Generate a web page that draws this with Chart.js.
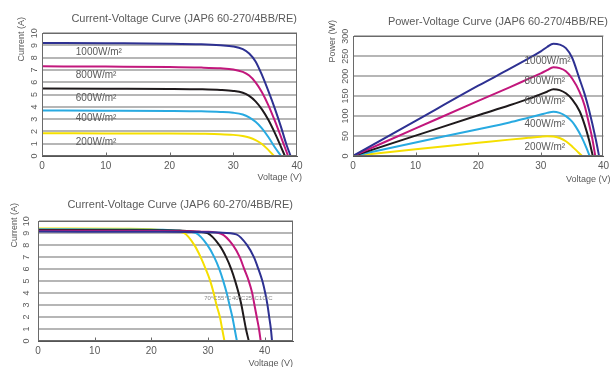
<!DOCTYPE html>
<html>
<head>
<meta charset="utf-8">
<script src="https://cdn.jsdelivr.net/npm/chart.js@4.4.0/dist/chart.umd.min.js"></script>
<style>
  body { margin: 0; background: #fff; width: 613px; height: 367px; position: relative; overflow: hidden; }
  .box { position: absolute; }
</style>
</head>
<body>
<div class="box" style="left:0;top:0;width:310px;height:188px"><canvas id="ivIrr"></canvas></div>
<div class="box" style="left:310px;top:0;width:303px;height:188px"><canvas id="pvIrr"></canvas></div>
<div class="box" style="left:0;top:190px;width:310px;height:177px"><canvas id="ivTemp"></canvas></div>
<script>
// ===== Data =====
const chartTitle = 'Current-Voltage Curve (JAP6 60-270/4BB/RE)';
const pvTitle = 'Power-Voltage Curve (JAP6 60-270/4BB/RE)';
const irrLabels = ['1000W/m²', '800W/m²', '600W/m²', '400W/m²', '200W/m²'];
const tempLabels = ['10°C', '25°C', '40°C', '55°C', '70°C'];

// I-V at different irradiance: [voltage, current]
const iv1000 = [[0,9.2],[10,9.18],[20,9.15],[25,9.1],[28,9.02],[30,8.92],[31.5,8.7],[32.5,8.35],[33.5,7.7],[34.5,6.6],[35.5,5.3],[36.5,3.9],[37.5,2.35],[38.3,1.0],[39.0,0]];
const iv800 = [[0,7.3],[10,7.28],[20,7.25],[25,7.2],[28,7.14],[30,7.05],[31.5,6.85],[32.5,6.55],[33.5,6.0],[34.5,5.2],[35.5,4.15],[36.5,2.9],[37.6,1.4],[38.6,0]];
const iv600 = [[0,5.5],[10,5.48],[20,5.46],[25,5.43],[28,5.38],[30,5.3],[31.5,5.15],[32.5,4.9],[33.5,4.45],[34.5,3.8],[35.5,2.95],[36.5,1.9],[37.4,0.85],[38.1,0]];
const iv400 = [[0,3.7],[10,3.69],[20,3.67],[25,3.64],[28,3.59],[30,3.52],[31.5,3.38],[32.5,3.15],[33.5,2.78],[34.5,2.25],[35.5,1.55],[36.6,0.65],[37.5,0]];
const iv200 = [[0,1.85],[10,1.84],[20,1.83],[25,1.81],[28,1.78],[30,1.72],[31.5,1.62],[32.5,1.5],[33.5,1.3],[34.5,0.98],[35.5,0.5],[36.4,0]];

// P-V at different irradiance: [voltage, power]
const pv1000 = [[0,0],[10,88],[20,176],[25,218],[28,244],[30,262],[31,273],[32,281],[33,279],[34,270],[35,246],[36.2,192],[37,155],[37.7,115],[38.8,40],[39.3,0]];
const pv800 = [[0,0],[10,69],[20,138],[25,172],[28,193],[30,207],[31,215],[32,222],[33,220],[34,212],[35,194],[36.2,160],[37,126],[37.7,80],[38.2,45],[38.7,0]];
const pv600 = [[0,0],[10,51],[20,102],[25,127],[28,143],[30,155],[31,161],[32,167],[33,165],[34,157],[35,142],[36.2,112],[37,78],[37.7,40],[38.3,0]];
const pv400 = [[0,0],[10,34],[20,67],[25,84],[28,96],[30,104],[31,108],[32,111],[33,108],[34,100],[35,86],[35.6,73],[36.5,48],[37.3,20],[37.8,0]];
const pv200 = [[0,0],[10,17],[20,33],[25,41],[28,45.5],[30,48.5],[31,49.5],[32,49],[33,45],[34,37],[35,24],[36,9],[36.6,0]];

// I-V at different cell temperature: [voltage, current]
const ivT10 = [[0,9.13],[20,9.12],[28,9.1],[32,9.05],[35,8.9],[36.9,8],[38.1,7],[38.9,6],[39.6,5],[40.1,4],[40.5,3],[40.8,2],[41.1,1],[41.3,0]];
const ivT25 = [[0,9.2],[20,9.19],[26,9.17],[29.5,9.12],[32.3,8.95],[34.4,8],[35.6,7],[36.4,6],[37.2,5],[37.8,4],[38.2,3],[38.6,2],[39,1],[39.3,0]];
const ivT40 = [[0,9.27],[20,9.25],[25,9.22],[28,9.13],[29.9,9],[32,8],[33.2,7],[34.1,6],[34.8,5],[35.4,4],[35.9,3],[36.3,2],[36.7,1],[37.2,0]];
const ivT55 = [[0,9.33],[15,9.31],[22,9.28],[25.5,9.18],[27.9,9],[29.9,8],[31.1,7],[32,6],[32.7,5],[33.3,4],[33.8,3],[34.3,2],[34.7,1],[35.1,0]];
const ivT70 = [[0,9.4],[15,9.37],[20,9.33],[23,9.22],[25.8,9],[27.6,8],[28.7,7],[29.6,6],[30.4,5],[31,4],[31.5,3],[32.1,2],[32.5,1],[32.9,0]];

// ===== Styles =====
const colors = ['#2e3192', '#c2177c', '#1f1a1c', '#28aae1', '#f5df00'];
const textColor = '#5a5a5a';
Chart.defaults.font.family = "'Liberation Sans', Arial, Helvetica, sans-serif";
Chart.defaults.color = textColor;

function lineSet(pairs, i) {
    return {
        data: pairs.map(p => ({x: p[0], y: p[1]})),
        borderColor: colors[i],
        borderWidth: 2,
        pointRadius: 0,
        fill: false,
        cubicInterpolationMode: 'monotone'
    };
}

// frame, inner ticks, axis titles and curve notes
const decor = {
    id: 'decor',
    afterDatasetsDraw(chart, args, o) {
        const {ctx, chartArea: a, scales: {x, y}} = chart;
        ctx.save();
        ctx.strokeStyle = '#6a6a6a';
        ctx.lineWidth = 1;
        const l = Math.round(a.left) + 0.5, r = Math.round(a.right) - 0.5;
        const t = Math.round(a.top) + 0.5, b = Math.round(a.bottom) - 0.5;
        ctx.strokeRect(l, t, r - l, b - t);
        x.ticks.forEach(tk => {
            if (tk.value <= x.min || tk.value >= x.max) return;
            const px = Math.round(x.getPixelForValue(tk.value)) + 0.5;
            ctx.beginPath();
            ctx.moveTo(px, b);
            ctx.lineTo(px, b - 3);
            ctx.stroke();
        });

        ctx.fillStyle = textColor;
        ctx.textBaseline = 'middle';
        (o.notes || []).forEach(n => {
            ctx.font = n.font;
            ctx.fillStyle = n.color || textColor;
            ctx.textAlign = n.align || 'left';
            ctx.fillText(n.text, x.getPixelForValue(n.x), y.getPixelForValue(n.y));
        });

        ctx.fillStyle = textColor;
        ctx.font = "9px 'Liberation Sans', Arial, sans-serif";
        ctx.textAlign = 'right';
        ctx.fillText(o.xTitle, a.right + o.xTitleDx, a.bottom + o.xTitleDy);

        ctx.translate(o.yTitleX, o.yTitleTop);
        ctx.rotate(-Math.PI / 2);
        ctx.textAlign = 'right';
        ctx.fillText(o.yTitle, 0, 0);
        ctx.restore();
    }
};

function axes(xMax, yMax, yStep, yPad, yWidth, xHeight) {
    return {
        x: {
            type: 'linear', min: 0, max: xMax,
            ticks: {stepSize: 10, includeBounds: false, padding: 4, maxRotation: 0, color: textColor, font: {size: 10}},
            grid: {display: false, drawTicks: false},
            border: {color: '#555', width: 1},
            afterFit: s => { s.height = xHeight; }
        },
        y: {
            type: 'linear', min: 0, max: yMax,
            ticks: {stepSize: yStep, autoSkip: false, minRotation: 90, maxRotation: 90, crossAlign: 'center',
                    padding: yPad, color: textColor, font: {size: 9}},
            grid: {color: '#b6b6b6', lineWidth: 2, drawTicks: false},
            border: {color: '#555', width: 1},
            afterFit: s => { s.width = yWidth; }
        }
    };
}

function titleOpts(text, top, bottom) {
    return {display: true, text: text, align: 'end', color: textColor,
            font: {size: 11, weight: 'normal'}, padding: {top: top, bottom: bottom}};
}

function baseOptions(scales, title, pad, decorOpts) {
    return {
        responsive: true,
        maintainAspectRatio: false,
        animation: false,
        layout: {padding: pad},
        scales: scales,
        plugins: {legend: {display: false}, tooltip: {enabled: false}, title: title, decor: decorOpts}
    };
}

const noteFont = "10px 'Liberation Sans', Arial, sans-serif";
const ivNotePos = [[5.3, 8.45], [5.3, 6.6], [5.3, 4.7], [5.3, 3.05], [5.3, 1.08]];
const pvNotePos = [[27.4, 238], [27.4, 188], [27.4, 136], [27.4, 80], [27.4, 21]];
const tempNotePos = [[40.2, 3.56], [37.8, 3.56], [35.4, 3.56], [32.9, 3.56], [30.5, 3.56]];

// ===== Chart 1: I-V vs irradiance =====
new Chart(document.getElementById('ivIrr'), {
    type: 'line',
    data: {datasets: [iv1000, iv800, iv600, iv400, iv200].map(lineSet)},
    options: baseOptions(
        axes(40, 10, 1, 2, 42, 32),
        titleOpts(chartTitle, 12, 8),
        {left: 0, right: 13, top: 0, bottom: 0},
        {xTitle: 'Voltage (V)', xTitleDx: 5, xTitleDy: 22, yTitle: 'Current (A)', yTitleX: 22, yTitleTop: 17,
         notes: irrLabels.map((t, i) => ({text: t, x: ivNotePos[i][0], y: ivNotePos[i][1], font: noteFont}))}
    ),
    plugins: [decor]
});

// ===== Chart 2: P-V vs irradiance =====
new Chart(document.getElementById('pvIrr'), {
    type: 'line',
    data: {datasets: [pv1000, pv800, pv600, pv400, pv200].map(lineSet)},
    options: baseOptions(
        axes(40, 300, 50, 0, 43, 32),
        titleOpts(pvTitle, 15, 8),
        {left: 0, right: 5, top: 0, bottom: 0},
        {xTitle: 'Voltage (V)', xTitleDx: 7, xTitleDy: 24, yTitle: 'Power (W)', yTitleX: 23, yTitleTop: 20,
         notes: irrLabels.map((t, i) => ({text: t, x: pvNotePos[i][0], y: pvNotePos[i][1], font: noteFont}))}
    ),
    plugins: [decor]
});

// ===== Chart 3: I-V vs temperature =====
new Chart(document.getElementById('ivTemp'), {
    type: 'line',
    data: {datasets: [ivT10, ivT25, ivT40, ivT55, ivT70].map(lineSet)},
    options: baseOptions(
        axes(45, 10, 1, 6, 38, 26),
        titleOpts(chartTitle, 8, 10),
        {left: 0, right: 17, top: 0, bottom: 0},
        {xTitle: 'Voltage (V)', xTitleDx: 0, xTitleDy: 23, yTitle: 'Current (A)', yTitleX: 15, yTitleTop: 13,
         notes: tempLabels.map((t, i) => ({text: t, x: tempNotePos[i][0], y: tempNotePos[i][1],
                font: "6px 'Liberation Sans', Arial, sans-serif", color: '#888', align: 'center'}))}
    ),
    plugins: [decor]
});
</script>
</body>
</html>
